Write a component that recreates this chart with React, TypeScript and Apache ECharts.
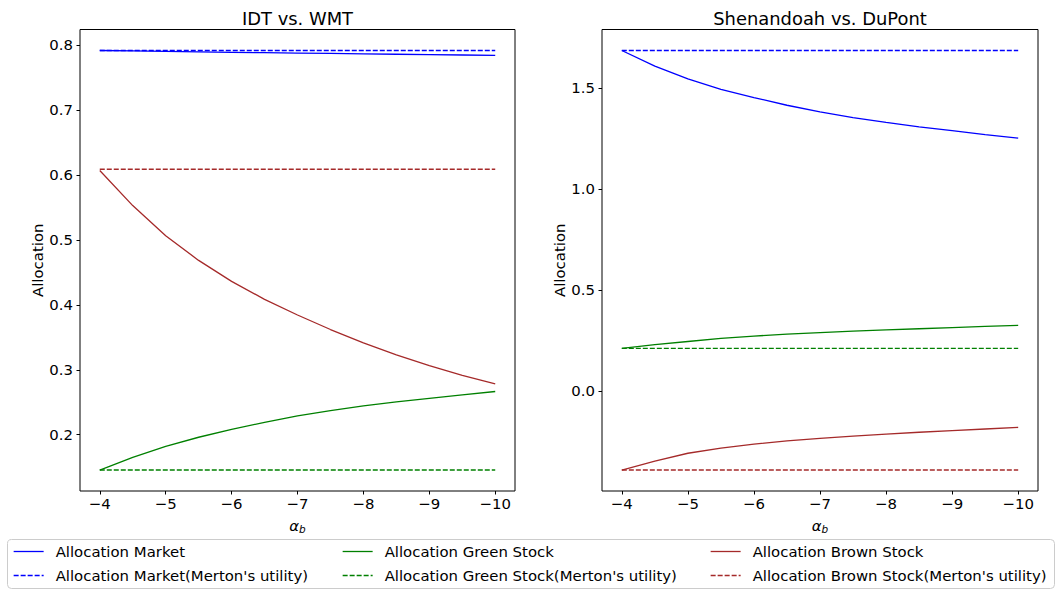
import React, { useEffect, useRef } from "react";
import * as echarts from "echarts";

const alphaB = [-4, -4.5, -5, -5.5, -6, -6.5, -7, -7.5, -8, -8.5, -9, -9.5, -10];
const xTickValues = [-4, -5, -6, -7, -8, -9, -10];
const leftYTicks = [0.2, 0.3, 0.4, 0.5, 0.6, 0.7, 0.8];
const rightYTicks = [0.0, 0.5, 1.0, 1.5];

const titles = ["IDT vs. WMT", "Shenandoah vs. DuPont"];
const names = [
  "Allocation Market",
  "Allocation Market(Merton's utility)",
  "Allocation Green Stock",
  "Allocation Green Stock(Merton's utility)",
  "Allocation Brown Stock",
  "Allocation Brown Stock(Merton's utility)",
];

// IDT vs. WMT
const idtMarket = [0.792, 0.7913, 0.7906, 0.7899, 0.7892, 0.7886, 0.788, 0.7874, 0.7868, 0.7862, 0.7856, 0.785, 0.7845];
const idtMarketMerton = [0.792, 0.792, 0.792, 0.792, 0.792, 0.792, 0.792, 0.792, 0.792, 0.792, 0.792, 0.792, 0.792];
const idtGreen = [0.1455, 0.165, 0.182, 0.196, 0.208, 0.219, 0.229, 0.237, 0.2445, 0.2505, 0.256, 0.2612, 0.2665];
const idtGreenMerton = [0.1455, 0.1455, 0.1455, 0.1455, 0.1455, 0.1455, 0.1455, 0.1455, 0.1455, 0.1455, 0.1455, 0.1455, 0.1455];
const idtBrown = [0.607, 0.553, 0.5066, 0.4685, 0.4362, 0.4085, 0.3844, 0.362, 0.3413, 0.323, 0.3063, 0.2915, 0.2781];
const idtBrownMerton = [0.609, 0.609, 0.609, 0.609, 0.609, 0.609, 0.609, 0.609, 0.609, 0.609, 0.609, 0.609, 0.609];

// Shenandoah vs. DuPont
const shdMarket = [1.687, 1.61, 1.546, 1.495, 1.454, 1.416, 1.383, 1.355, 1.331, 1.309, 1.29, 1.271, 1.253];
const shdMarketMerton = [1.687, 1.687, 1.687, 1.687, 1.687, 1.687, 1.687, 1.687, 1.687, 1.687, 1.687, 1.687, 1.687];
const shdGreen = [0.213, 0.231, 0.247, 0.262, 0.274, 0.283, 0.291, 0.298, 0.304, 0.31, 0.316, 0.322, 0.327];
const shdGreenMerton = [0.213, 0.213, 0.213, 0.213, 0.213, 0.213, 0.213, 0.213, 0.213, 0.213, 0.213, 0.213, 0.213];
const shdBrown = [-0.389, -0.345, -0.306, -0.281, -0.261, -0.245, -0.232, -0.221, -0.211, -0.202, -0.194, -0.186, -0.178];
const shdBrownMerton = [-0.389, -0.389, -0.389, -0.389, -0.389, -0.389, -0.389, -0.389, -0.389, -0.389, -0.389, -0.389, -0.389];

const BLUE = "#0000ff";
const GREEN = "#008000";
const BROWN = "#a52a2a";
const FONT = "DejaVu Sans";
const TICK_FS = 14.9;
const TITLE_FS = 17.9;

function paddedRange(arrays: number[][]) {
  let lo = Infinity;
  let hi = -Infinity;
  arrays.forEach((a) => a.forEach((v) => { lo = Math.min(lo, v); hi = Math.max(hi, v); }));
  const m = (hi - lo) * 0.05;
  return { min: lo - m, max: hi + m };
}

function lineSeries(name: string, ys: number[], color: string, dashed: boolean, idx: number) {
  return {
    type: "line",
    name,
    xAxisIndex: idx,
    yAxisIndex: idx,
    data: alphaB.map((x, i) => [x, ys[i]]),
    symbol: "none",
    smooth: false,
    lineStyle: { color, width: 1.3, type: dashed ? [5, 2] : "solid" },
    itemStyle: { color },
    emphasis: { disabled: true },
  };
}

export default function App() {
  const ref = useRef<HTMLDivElement>(null);
  useEffect(() => {
    if (!ref.current) return;
    const chart = echarts.init(ref.current, null, { renderer: "svg" });
    const leftR = paddedRange([idtMarket, idtMarketMerton, idtGreen, idtGreenMerton, idtBrown, idtBrownMerton]);
    const rightR = paddedRange([shdMarket, shdMarketMerton, shdGreen, shdGreenMerton, shdBrown, shdBrownMerton]);

    const grids = [
      { left: 80, top: 29.5, width: 435, height: 461.5 },
      { left: 602, top: 29.5, width: 436, height: 461.5 },
    ];
    const xMin = Math.min(...alphaB);
    const xMax = Math.max(...alphaB);
    const xPad = (xMax - xMin) * 0.05;

    const xAxis = [0, 1].map((i) => ({
      type: "value",
      gridIndex: i,
      inverse: true,
      min: xMin - xPad,
      max: xMax + xPad,
      name: "{a|α}{b|b}",
      nameLocation: "middle",
      nameGap: 26,
      nameTextStyle: {
        rich: {
          a: { fontFamily: FONT, fontSize: TICK_FS, fontStyle: "italic", color: "#000" },
          b: { fontFamily: FONT, fontSize: 10.5, fontStyle: "italic", color: "#000", verticalAlign: "bottom", padding: [6, 0, 0, 0] },
        },
      },
      axisLine: { show: false, onZero: false },
      splitLine: { show: false },
      axisTick: { show: true, inside: false, length: 3.5, lineStyle: { color: "#000", width: 1 }, customValues: xTickValues },
      axisLabel: {
        customValues: xTickValues,
        margin: 5,
        fontFamily: FONT,
        fontSize: TICK_FS,
        color: "#000",
        formatter: (v: number) => (v < 0 ? "\u2212" + Math.abs(v) : String(v)),
      },
    }));

    const yAxis = [0, 1].map((i) => {
      const r = i === 0 ? leftR : rightR;
      const ticks = i === 0 ? leftYTicks : rightYTicks;
      return {
        type: "value",
        gridIndex: i,
        min: r.min,
        max: r.max,
        name: "Allocation",
        nameLocation: "middle",
        nameGap: 33,
        nameTextStyle: { fontFamily: FONT, fontSize: TICK_FS, color: "#000" },
        axisLine: { show: false, onZero: false },
        splitLine: { show: false },
        axisTick: { show: true, inside: false, length: 3.5, lineStyle: { color: "#000", width: 1 }, customValues: ticks },
        axisLabel: {
          customValues: ticks,
          margin: 7,
          fontFamily: FONT,
          fontSize: TICK_FS,
          color: "#000",
          formatter: (v: number) => v.toFixed(1),
        },
      };
    });

    const series = [
      lineSeries(names[0], idtMarket, BLUE, false, 0),
      lineSeries(names[1], idtMarketMerton, BLUE, true, 0),
      lineSeries(names[2], idtGreen, GREEN, false, 0),
      lineSeries(names[3], idtGreenMerton, GREEN, true, 0),
      lineSeries(names[4], idtBrown, BROWN, false, 0),
      lineSeries(names[5], idtBrownMerton, BROWN, true, 0),
      lineSeries(names[0], shdMarket, BLUE, false, 1),
      lineSeries(names[1], shdMarketMerton, BLUE, true, 1),
      lineSeries(names[2], shdGreen, GREEN, false, 1),
      lineSeries(names[3], shdGreenMerton, GREEN, true, 1),
      lineSeries(names[4], shdBrown, BROWN, false, 1),
      lineSeries(names[5], shdBrownMerton, BROWN, true, 1),
    ];

    const legendCommon = {
      orient: "vertical",
      top: 544,
      padding: 0,
      itemWidth: 30,
      itemHeight: 14,
      itemGap: 9,
      selectedMode: false,
      itemStyle: { opacity: 0, borderWidth: 0 },
      lineStyle: { width: 1.3 },
      textStyle: { fontFamily: FONT, fontSize: TICK_FS, color: "#000", padding: [0, 0, 0, 7] },
    };

    chart.setOption({
      animation: false,
      backgroundColor: "#ffffff",
      grid: grids.map((g) => ({ ...g, show: true, borderColor: "#000", borderWidth: 1, backgroundColor: "transparent" })),
      xAxis,
      yAxis,
      series,
      legend: [
        { ...legendCommon, left: 13, data: [names[0], names[1]] },
        { ...legendCommon, left: 342, data: [names[2], names[3]] },
        { ...legendCommon, left: 710, data: [names[4], names[5]] },
      ],
      graphic: [
        {
          type: "rect",
          z: -10,
          shape: { x: 7.5, y: 539.5, width: 1047, height: 49, r: 4 },
          style: { fill: "rgba(255,255,255,0.8)", stroke: "#cccccc", lineWidth: 1 },
        },
        {
          type: "text",
          x: (grids[0].left + grids[0].left + grids[0].width) / 2,
          y: 18.6,
          style: { text: titles[0], fontFamily: FONT, fontSize: TITLE_FS, fill: "#000", textAlign: "center", textVerticalAlign: "middle" },
        },
        {
          type: "text",
          x: (grids[1].left + grids[1].left + grids[1].width) / 2,
          y: 18.6,
          style: { text: titles[1], fontFamily: FONT, fontSize: TITLE_FS, fill: "#000", textAlign: "center", textVerticalAlign: "middle" },
        },
      ],
    });
    return () => chart.dispose();
  }, []);
  return <div ref={ref} style={{ position: "absolute", left: 0, top: 0, width: 1056, height: 589 }} />;
}
